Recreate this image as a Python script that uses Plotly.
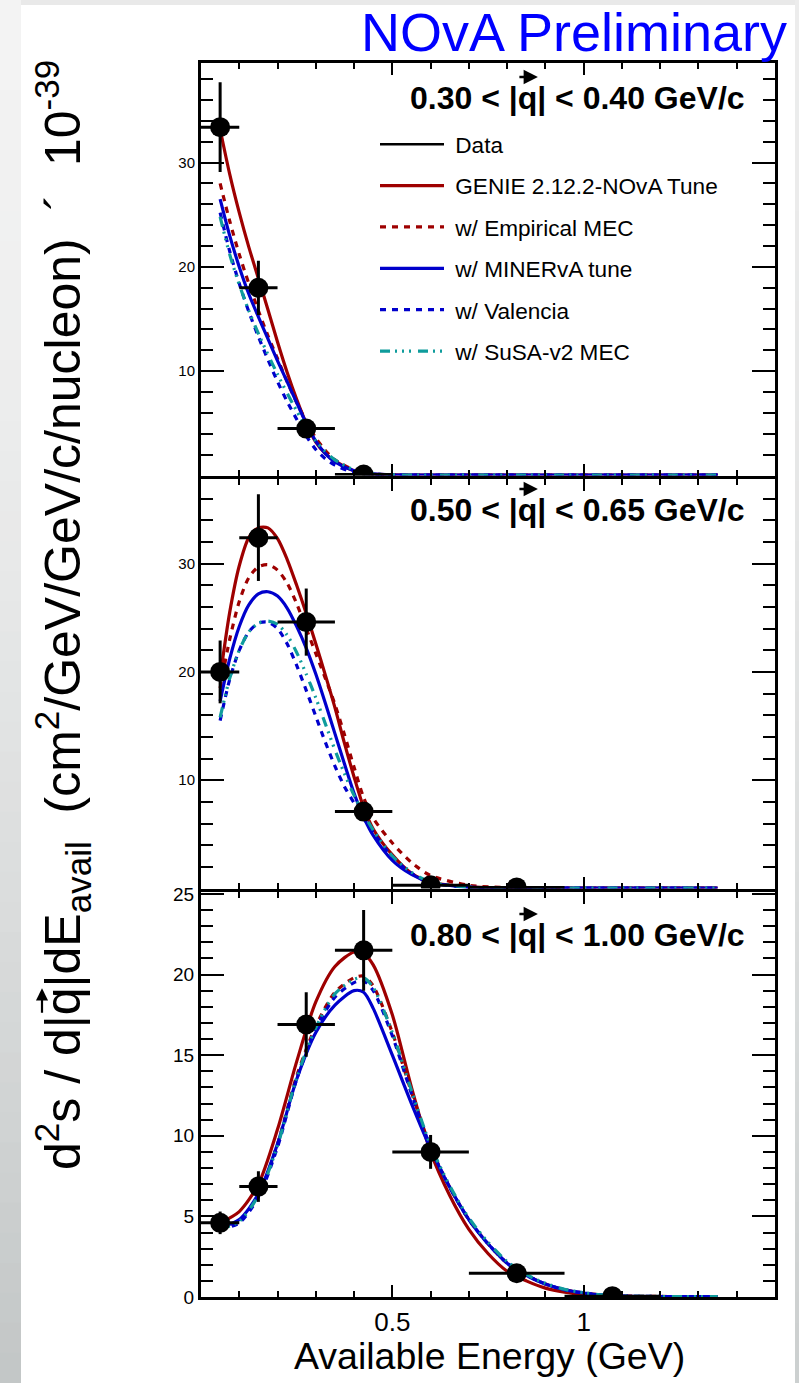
import plotly.graph_objects as go

# ---------------------------------------------------------------------------
# Measured cross sections (units of 1e-39 cm^2/GeV/GeV/c/nucleon)
# ---------------------------------------------------------------------------
P1_E = [0.05, 0.15, 0.275, 0.425]
P1_XERR = [0.05, 0.05, 0.075, 0.075]
P1_DATA = [33.4, 18.0, 4.5, 0.1]
P1_YERR = [4.3, 2.6, 0.5, 0.1]

P2_E = [0.05, 0.15, 0.275, 0.425, 0.6, 0.825]
P2_XERR = [0.05, 0.05, 0.075, 0.075, 0.1, 0.125]
P2_DATA = [20.0, 32.4, 24.6, 7.1, 0.3, 0.1]
P2_YERR = [2.9, 4.0, 3.1, 0.6, 0.2, 0.1]

P3_E = [0.05, 0.15, 0.275, 0.425, 0.6, 0.825, 1.075]
P3_XERR = [0.05, 0.05, 0.075, 0.075, 0.1, 0.125, 0.125]
P3_DATA = [4.6, 6.85, 16.9, 21.5, 9.0, 1.47, 0.05]
P3_YERR = [0.7, 0.95, 2.0, 2.5, 1.05, 0.3, 0.05]

# ---------------------------------------------------------------------------
# Model predictions
# ---------------------------------------------------------------------------
P1_CURVE_E = [0.05, 0.075, 0.1, 0.125, 0.15, 0.175, 0.2, 0.225, 0.25, 0.275,
              0.3, 0.325, 0.35, 0.4, 0.45, 0.5, 0.6, 0.8, 1.0, 1.35]
P1_GENIE = [33.2, 28.9, 25.2, 21.9, 18.9, 15.9, 12.8, 9.9, 7.3, 5.0,
            3.2, 2.1, 1.4, 0.45, 0.14, 0.06, 0.05, 0.05, 0.05, 0.05]
P1_EMPMEC = [28.0, 24.4, 21.2, 18.4, 15.8, 13.4, 11.2, 9.0, 7.0, 5.2,
             3.6, 2.4, 1.5, 0.55, 0.18, 0.06, 0.04, 0.04, 0.04, 0.04]
P1_MINERVA = [26.5, 23.0, 20.0, 17.4, 15.2, 13.1, 11.0, 9.0, 7.0, 5.0,
              3.3, 2.1, 1.3, 0.45, 0.15, 0.05, 0.04, 0.04, 0.04, 0.04]
P1_VALENCIA = [25.2, 21.5, 18.4, 15.7, 13.3, 11.1, 9.0, 7.1, 5.4, 3.8,
               2.5, 1.6, 1.0, 0.3, 0.1, 0.04, 0.04, 0.04, 0.04, 0.04]
P1_SUSA = [24.8, 21.2, 18.3, 15.8, 13.6, 11.6, 9.7, 7.9, 6.2, 4.6,
           3.3, 2.3, 1.5, 0.55, 0.18, 0.06, 0.04, 0.04, 0.04, 0.04]

P2_CURVE_E = [0.05, 0.075, 0.1, 0.125, 0.15, 0.175, 0.2, 0.225, 0.25, 0.275,
              0.3, 0.325, 0.35, 0.375, 0.4, 0.425, 0.45, 0.5, 0.55, 0.6,
              0.7, 0.8, 1.0, 1.35]
P2_GENIE = [19.5, 25.5, 29.8, 32.4, 33.3, 33.3, 32.3, 30.4, 28.0, 25.4,
            22.6, 19.7, 16.7, 13.4, 10.3, 7.5, 5.5, 3.1, 1.4, 0.6,
            0.15, 0.06, 0.04, 0.04]
P2_EMPMEC = [18.5, 23.0, 26.5, 28.7, 29.7, 29.9, 29.4, 28.2, 26.3, 24.0,
             21.7, 19.4, 17.0, 14.2, 11.2, 8.4, 6.5, 4.2, 2.4, 1.2,
             0.3, 0.08, 0.04, 0.04]
P2_MINERVA = [17.3, 21.2, 24.2, 26.2, 27.2, 27.4, 27.0, 25.9, 24.2, 22.2,
              19.8, 17.1, 14.3, 11.5, 8.8, 6.6, 4.9, 2.6, 1.3, 0.55,
              0.12, 0.05, 0.04, 0.04]
P2_VALENCIA = [15.5, 19.3, 22.0, 23.7, 24.5, 24.6, 24.0, 22.6, 20.6, 18.3,
               15.9, 13.5, 11.3, 9.4, 7.9, 6.5, 5.2, 2.9, 1.4, 0.55,
               0.12, 0.05, 0.04, 0.04]
P2_SUSA = [15.8, 19.4, 22.0, 23.7, 24.5, 24.7, 24.4, 23.4, 21.8, 19.8,
           17.6, 15.2, 12.8, 10.6, 8.6, 6.9, 5.4, 3.0, 1.5, 0.6,
           0.13, 0.05, 0.04, 0.04]

P3_CURVE_E = [0.05, 0.1, 0.15, 0.2, 0.25, 0.3, 0.35, 0.4, 0.425, 0.45,
              0.5, 0.55, 0.6, 0.65, 0.7, 0.75, 0.8, 0.85, 0.9, 0.95,
              1.0, 1.05, 1.1, 1.35]
P3_GENIE = [4.6, 5.3, 7.0, 10.4, 14.6, 18.3, 20.5, 21.4, 21.3, 20.6,
            17.5, 13.0, 9.0, 6.3, 4.2, 2.7, 1.6, 1.0, 0.55, 0.3,
            0.16, 0.08, 0.04, 0.02]
P3_EMPMEC = [4.2, 4.7, 6.3, 9.5, 13.7, 16.8, 18.9, 19.8, 19.9, 19.3,
             16.4, 12.7, 9.3, 6.8, 4.8, 3.3, 2.1, 1.35, 0.8, 0.45,
             0.25, 0.12, 0.06, 0.02]
P3_MINERVA = [4.3, 4.8, 6.4, 9.5, 13.5, 16.4, 18.1, 19.0, 18.9, 17.9,
              15.0, 12.0, 9.2, 6.8, 4.8, 3.3, 2.1, 1.35, 0.8, 0.45,
              0.25, 0.12, 0.06, 0.02]
P3_VALENCIA = [4.2, 4.6, 6.2, 9.3, 13.5, 16.6, 18.6, 19.5, 19.6, 19.0,
               16.2, 12.6, 9.3, 6.8, 4.8, 3.3, 2.1, 1.35, 0.8, 0.45,
               0.25, 0.12, 0.06, 0.02]
P3_SUSA = [4.2, 4.7, 6.3, 9.4, 13.6, 16.7, 18.8, 19.7, 19.8, 19.2,
           16.4, 12.8, 9.4, 6.9, 4.9, 3.4, 2.2, 1.4, 0.85, 0.48,
           0.27, 0.13, 0.06, 0.02]

# momentum-transfer slices: (low, high) edges shown in each panel label
Q_SLICES = [("0.30", "0.40"), ("0.50", "0.65"), ("0.80", "1.00")]
MODEL_NAMES = ["GENIE 2.12.2-NOvA Tune", "w/ Empirical MEC", "w/ MINERvA tune",
               "w/ Valencia", "w/ SuSA-v2 MEC"]

# ---------------------------------------------------------------------------
# Page geometry
# ---------------------------------------------------------------------------
W, H = 799, 1383
ML, MR, MT, MB = 201, 24, 63, 86
PW, PH = W - ML - MR, H - MT - MB
FONT = "Liberation Sans, Arial, Helvetica, sans-serif"
LW = 3  # frame line width; adjacent panels are spaced so their frames coincide


def fx(px):
    return (px - ML) / PW


def fy(py):
    return (H - MB - py) / PH


DOM1 = [fy(475.5), 1.0]
DOM2 = [fy(888.5), fy(475.5 + LW)]
DOM3 = [0.0, fy(888.5 + LW)]

RED = "#9e0000"
BLUE = "#0000cc"
TEAL = "#0f9c9c"
STYLES = [
    dict(color=RED, width=3.2, dash="solid"),
    dict(color=RED, width=3.2, dash="6px,6px"),
    dict(color=BLUE, width=3.2, dash="solid"),
    dict(color=BLUE, width=3.2, dash="6px,6px"),
    dict(color=TEAL, width=3.2, dash="10px,5px,2px,5px,2px,5px,2px,7px"),
]

fig = go.Figure()

# legend entry for the data (line sample only)
fig.add_trace(go.Scatter(x=[None], y=[None], mode="lines", name="\u00a0Data",
                         line=dict(color="black", width=2.5),
                         legendgroup="data", showlegend=True))

panel_curves = [
    (P1_CURVE_E, [P1_GENIE, P1_EMPMEC, P1_MINERVA, P1_VALENCIA, P1_SUSA], "x", "y"),
    (P2_CURVE_E, [P2_GENIE, P2_EMPMEC, P2_MINERVA, P2_VALENCIA, P2_SUSA], "x2", "y2"),
    (P3_CURVE_E, [P3_GENIE, P3_EMPMEC, P3_MINERVA, P3_VALENCIA, P3_SUSA], "x3", "y3"),
]
for m, name in enumerate(MODEL_NAMES):
    for p, (ex, curves, xa, ya) in enumerate(panel_curves):
        fig.add_trace(go.Scatter(
            x=ex, y=curves[m], mode="lines", name="\u00a0" + name,
            line=dict(shape="spline", smoothing=0.8, **STYLES[m]),
            legendgroup="m%d" % m, showlegend=(p == 0),
            xaxis=xa, yaxis=ya))

panel_data = [
    (P1_E, P1_XERR, P1_DATA, P1_YERR, "x", "y"),
    (P2_E, P2_XERR, P2_DATA, P2_YERR, "x2", "y2"),
    (P3_E, P3_XERR, P3_DATA, P3_YERR, "x3", "y3"),
]
for ex, exe, val, err, xa, ya in panel_data:
    fig.add_trace(go.Scatter(
        x=ex, y=val, mode="markers", name="Data", showlegend=False,
        legendgroup="data",
        marker=dict(color="black", size=20, line=dict(width=0)),
        error_x=dict(type="data", array=exe, color="black", thickness=3, width=0),
        error_y=dict(type="data", array=err, color="black", thickness=3, width=0),
        xaxis=xa, yaxis=ya))


# ---------------------------------------------------------------------------
# Axes
# ---------------------------------------------------------------------------
def xaxis(anchor, labels):
    return dict(domain=[0, 1], anchor=anchor, range=[0, 1.5],
                tickmode="array", tickvals=[0.5, 1.0], ticktext=["0.5", "1"],
                showticklabels=labels, ticks="inside", ticklen=12, tickwidth=1.6,
                tickcolor="black",
                minor=dict(tickmode="linear", tick0=0, dtick=0.1, ticks="inside",
                           ticklen=6, tickwidth=1.6, tickcolor="black"),
                showline=True, linewidth=LW, linecolor="black", mirror="allticks",
                showgrid=False, zeroline=False,
                tickfont=dict(family=FONT, size=26, color="black"))


def yaxis(domain, anchor, rng, vals, minor_dt, fsize):
    return dict(domain=domain, anchor=anchor, range=rng,
                tickmode="array", tickvals=vals, ticktext=[str(v) for v in vals],
                ticks="inside", ticklen=23, tickwidth=1.6, tickcolor="black",
                minor=dict(tickmode="linear", tick0=0, dtick=minor_dt,
                           ticks="inside", ticklen=12, tickwidth=1.6,
                           tickcolor="black"),
                showline=True, linewidth=LW, linecolor="black", mirror="allticks",
                showgrid=False, zeroline=False,
                tickfont=dict(family=FONT, size=fsize, color="black"))


y1 = yaxis(DOM1, "x", [0, 39.55], [10, 20, 30], 2, 15)
y2 = yaxis(DOM2, "x2", [0, 37.86], [10, 20, 30], 2, 15)
y3 = yaxis(DOM3, "x3", [0, 25.15], [0, 5, 10, 15, 20, 25], 1, 19)


# ---------------------------------------------------------------------------
# Page background: white sheet on a grey slide border
# ---------------------------------------------------------------------------
def mix(c0, c1, t):
    a = [int(c0[i:i + 2], 16) for i in (1, 3, 5)]
    b = [int(c1[i:i + 2], 16) for i in (1, 3, 5)]
    return "#%02x%02x%02x" % tuple(round(a[k] + (b[k] - a[k]) * t) for k in range(3))


shapes = [dict(type="rect", xref="paper", yref="paper", layer="below",
               x0=fx(21), x1=fx(795), y0=fy(H + 2), y1=fy(5),
               fillcolor="white", line=dict(width=0))]
N = 46
for i in range(N):
    t = (i + 0.5) / N
    shapes.append(dict(type="rect", xref="paper", yref="paper", layer="below",
                       x0=fx(-1), x1=fx(21), y0=fy(H * (i + 1) / N + 1), y1=fy(H * i / N),
                       fillcolor=mix("#f3f3f3", "#c2c6c6", t ** 1.6),
                       line=dict(width=0)))
    shapes.append(dict(type="rect", xref="paper", yref="paper", layer="below",
                       x0=fx(795), x1=fx(W + 1), y0=fy(H * (i + 1) / N + 1), y1=fy(H * i / N),
                       fillcolor=mix("#ececec", "#cbcfcf", t ** 1.6),
                       line=dict(width=0)))

# ---------------------------------------------------------------------------
# Text
# ---------------------------------------------------------------------------
# Arial / Liberation advance widths (1/1000 em) used to place the vector arrow
BOLD_W = {"0": 556, "1": 556, "3": 556, "4": 556, "5": 556, "6": 556, "8": 556,
          ".": 278, " ": 278, "<": 584, "|": 280, "q": 611, "G": 778, "e": 556,
          "V": 667, "/": 278, "c": 556}
REG_W = {"d": 556, "2": 556, "s": 500, " ": 278, "/": 278, "|": 260, "q": 556}


def text_w(s, size, table):
    return sum(table[ch] for ch in s) * size / 1000.0


def vector_arrow(x_px, y_px, dx, dy, width):
    """Arrow drawn as an annotation pointer: head at (x_px, y_px), tail offset (dx, dy)."""
    return dict(text="", xref="paper", yref="paper", x=fx(x_px), y=fy(y_px),
                ax=dx, ay=dy, showarrow=True, arrowhead=2, arrowsize=1.1,
                arrowwidth=width, arrowcolor="black", standoff=0, startstandoff=0)


annotations = [
    dict(text="NOvA Preliminary", xref="paper", yref="paper",
         x=fx(789), y=fy(32), xanchor="right", yanchor="middle", showarrow=False,
         font=dict(family=FONT, size=54, color="#0000ff")),
    dict(text="Available Energy (GeV)", xref="paper", yref="paper",
         x=fx(489), y=fy(1356), xanchor="center", yanchor="middle", showarrow=False,
         font=dict(family=FONT, size=37.5, color="black")),
]

# vertical axis title, read bottom to top, with an arrow over the q
YT_SIZE = 50
YT_START = 1170
annotations.append(dict(
    text=("d<sup>2</sup>s / d|q|dE<sub>avail</sub>\u00a0\u00a0"
          "(cm<sup>2</sup>/GeV/GeV/c/nucleon)\u00a0\u00a0\u00b4\u00a0\u00a010<sup>-39</sup>"),
    xref="paper", yref="paper", x=fx(62), y=fy(YT_START), textangle=-90,
    xanchor="center", yanchor="bottom", showarrow=False, borderpad=0, borderwidth=0,
    font=dict(family=FONT, size=YT_SIZE, color="black")))
q_y = YT_START - (text_w("d", YT_SIZE, REG_W) + 0.7 * text_w("2", YT_SIZE, REG_W)
                  + text_w("s / d|", YT_SIZE, REG_W) + text_w("q", YT_SIZE, REG_W) / 2)
annotations.append(vector_arrow(42, q_y - 13, 0, 26, 2.2))

# panel labels
LAB_SIZE = 32
LAB_RIGHT = 745
for (lo, hi), py in zip(Q_SLICES, [98, 510, 935]):
    tail = "| < %s GeV/c" % hi
    annotations.append(dict(text="<b>%s < |q%s</b>" % (lo, tail), xref="paper", yref="paper",
                            x=fx(LAB_RIGHT), y=fy(py), xanchor="right", yanchor="middle",
                            showarrow=False, borderpad=0, borderwidth=0,
                            font=dict(family=FONT, size=LAB_SIZE, color="black")))
    qx = LAB_RIGHT - text_w(tail, LAB_SIZE, BOLD_W) - text_w("q", LAB_SIZE, BOLD_W) / 2
    annotations.append(vector_arrow(qx + 10, py - 21, -20, 0, 2.6))

fig.update_layout(
    width=W, height=H,
    margin=dict(l=ML, r=MR, t=MT, b=MB, pad=0),
    paper_bgcolor="#e9e9e9", plot_bgcolor="white",
    xaxis=xaxis("y", False), xaxis2=xaxis("y2", False), xaxis3=xaxis("y3", True),
    yaxis=y1, yaxis2=y2, yaxis3=y3,
    shapes=shapes, annotations=annotations,
    showlegend=True,
    legend=dict(x=fx(375), y=fy(123), xanchor="left", yanchor="top",
                bgcolor="rgba(0,0,0,0)", borderwidth=0, itemwidth=64,
                traceorder="grouped", tracegroupgap=9,
                font=dict(family=FONT, size=22.6, color="black")),
)

fig.write_html("out.html")
